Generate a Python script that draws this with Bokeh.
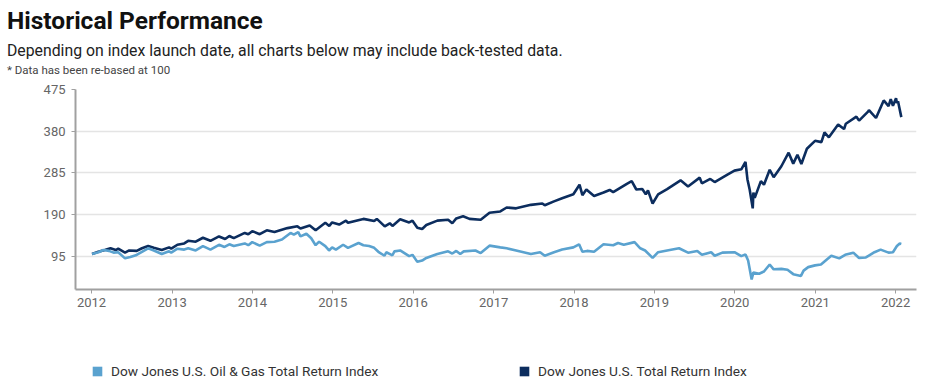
import pandas as pd
from bokeh.plotting import figure
from bokeh.layouts import column
from bokeh.models import (Range1d, FixedTicker, DatetimeTickFormatter, Div,
                          Legend, LegendItem, ColumnDataSource)
from bokeh.embed import file_html
from bokeh.resources import INLINE

# ---------------- data ----------------
us_dates = ["2012-01-03", "2012-02-01", "2012-03-01", "2012-03-27", "2012-04-20", "2012-05-01",
            "2012-06-01", "2012-06-20", "2012-07-24", "2012-08-17", "2012-09-14", "2012-10-10",
            "2012-11-15", "2012-12-18", "2012-12-28", "2013-01-25", "2013-02-25", "2013-03-15",
            "2013-04-18", "2013-05-21", "2013-06-24", "2013-08-02", "2013-08-30", "2013-09-18",
            "2013-10-08", "2013-11-27", "2013-12-13", "2013-12-31", "2014-02-03", "2014-03-07",
            "2014-04-11", "2014-06-09", "2014-07-24", "2014-08-07", "2014-09-18", "2014-10-15",
            "2014-11-28", "2014-12-16", "2014-12-29", "2015-01-30", "2015-03-02", "2015-03-11",
            "2015-05-20", "2015-07-08", "2015-07-20", "2015-08-25", "2015-09-17", "2015-09-29",
            "2015-11-03", "2015-12-14", "2015-12-29", "2016-01-20", "2016-02-11", "2016-03-01",
            "2016-04-20", "2016-06-08", "2016-06-27", "2016-07-15", "2016-08-15", "2016-09-13",
            "2016-11-03", "2016-12-13", "2017-01-31", "2017-03-01", "2017-04-13", "2017-06-19",
            "2017-08-10", "2017-08-21", "2017-10-02", "2017-11-08", "2017-12-29", "2018-01-26",
            "2018-02-08", "2018-02-26", "2018-04-02", "2018-05-15", "2018-06-12", "2018-06-28",
            "2018-08-29", "2018-09-20", "2018-10-11", "2018-11-07", "2018-11-23", "2018-12-03",
            "2018-12-24", "2019-01-18", "2019-02-28", "2019-04-30", "2019-06-03", "2019-07-26",
            "2019-08-05", "2019-09-12", "2019-10-02", "2019-11-29", "2019-12-31", "2020-01-31",
            "2020-02-19", "2020-02-28", "2020-03-09", "2020-03-23", "2020-03-26", "2020-04-01",
            "2020-04-29", "2020-05-13", "2020-06-08", "2020-06-26", "2020-07-31", "2020-09-02",
            "2020-09-23", "2020-10-12", "2020-10-30", "2020-11-24", "2020-12-31", "2021-01-29",
            "2021-02-12", "2021-03-04", "2021-04-15", "2021-05-12", "2021-05-20", "2021-07-07",
            "2021-07-19", "2021-08-30", "2021-09-02", "2021-10-04", "2021-11-08", "2021-11-30",
            "2021-12-10", "2021-12-20", "2022-01-03", "2022-01-07", "2022-01-12", "2022-01-27"]
us_values = [100, 105, 109, 113, 109, 112,
             103, 108, 107, 113, 118, 114,
             109, 115, 112, 121, 124, 130,
             128, 137, 130, 140, 134, 141,
             136, 148, 145, 152, 145, 154,
             150, 159, 163, 158, 165, 154,
             171, 164, 172, 167, 176, 171,
             180, 175, 180, 163, 170, 164,
             179, 172, 176, 160, 157, 166,
             176, 178, 170, 181, 186, 180,
             178, 194, 197, 206, 204, 212,
             215, 211, 220, 227, 236, 258,
             234, 247, 232, 240, 246, 241,
             260, 266, 247, 248, 236, 245,
             215, 236, 248, 268, 254, 274,
             261, 271, 264, 281, 290, 293,
             310, 270, 247, 204, 240, 228,
             266, 258, 292, 275, 300, 331,
             306, 326, 305, 340, 358, 355,
             377, 366, 395, 385, 397, 413,
             404, 425, 428, 410, 450, 437,
             453, 438, 455, 444, 448, 412]

og_dates = ["2012-01-03", "2012-02-01", "2012-02-24", "2012-03-20", "2012-04-10", "2012-05-01",
            "2012-06-01", "2012-06-25", "2012-07-20", "2012-08-17", "2012-09-14", "2012-10-10",
            "2012-11-15", "2012-12-18", "2012-12-28", "2013-01-25", "2013-02-25", "2013-03-15",
            "2013-04-18", "2013-05-21", "2013-06-24", "2013-08-02", "2013-08-27", "2013-09-18",
            "2013-10-08", "2013-11-27", "2013-12-13", "2013-12-31", "2014-02-03", "2014-03-07",
            "2014-04-11", "2014-05-15", "2014-06-23", "2014-07-08", "2014-07-28", "2014-08-07",
            "2014-09-03", "2014-09-25", "2014-10-15", "2014-10-31", "2014-11-28", "2014-12-15",
            "2014-12-29", "2015-01-15", "2015-02-17", "2015-03-11", "2015-04-28", "2015-05-20",
            "2015-06-15", "2015-07-08", "2015-07-27", "2015-08-24", "2015-09-01", "2015-09-29",
            "2015-10-08", "2015-11-03", "2015-12-14", "2015-12-29", "2016-01-20", "2016-02-11",
            "2016-03-01", "2016-04-20", "2016-06-08", "2016-06-27", "2016-07-15", "2016-08-02",
            "2016-08-18", "2016-10-10", "2016-11-03", "2016-12-13", "2017-01-31", "2017-03-01",
            "2017-04-13", "2017-06-19", "2017-07-31", "2017-08-21", "2017-10-02", "2017-11-08",
            "2017-12-29", "2018-01-24", "2018-02-08", "2018-03-01", "2018-04-02", "2018-05-15",
            "2018-06-28", "2018-07-20", "2018-08-15", "2018-10-03", "2018-10-29", "2018-11-20",
            "2018-12-24", "2019-01-18", "2019-02-28", "2019-04-23", "2019-06-03", "2019-07-15",
            "2019-08-05", "2019-09-16", "2019-10-02", "2019-11-06", "2019-12-31", "2020-01-31",
            "2020-02-19", "2020-03-02", "2020-03-18", "2020-03-26", "2020-04-21", "2020-05-13",
            "2020-06-08", "2020-06-26", "2020-07-31", "2020-08-28", "2020-09-23", "2020-10-28",
            "2020-11-09", "2020-11-30", "2020-12-31", "2021-01-27", "2021-02-24", "2021-03-15",
            "2021-04-20", "2021-05-17", "2021-06-23", "2021-07-19", "2021-08-19", "2021-09-27",
            "2021-10-25", "2021-11-30", "2021-12-20", "2022-01-07", "2022-01-20", "2022-01-27"]
og_values = [100, 104, 109, 107, 103, 104,
             90, 93, 97, 105, 113, 108,
             100, 106, 103, 112, 110, 113,
             108, 118, 110, 121, 116, 122,
             118, 124, 120, 127, 119, 127,
             128, 133, 148, 144, 150, 140,
             146, 136, 120, 128, 118, 108,
             115, 110, 121, 114, 125, 120,
             118, 114, 105, 96, 104, 97,
             106, 108, 95, 98, 82, 85,
             91, 100, 106, 101, 107, 100,
             106, 108, 102, 119, 115, 113,
             108, 100, 104, 96, 104, 110,
             115, 122, 105, 107, 105, 122,
             120, 125, 121, 127, 113, 108,
             91, 104, 108, 113, 103, 107,
             98, 104, 96, 103, 104, 95,
             99, 85, 42, 58, 55, 60,
             76, 65, 66, 64, 54, 50,
             62, 70, 74, 76, 88, 96,
             90, 98, 103, 91, 92, 104,
             110, 103, 104, 118, 124, 123]

og_name = "Dow Jones U.S. Oil & Gas Total Return Index"
us_name = "Dow Jones U.S. Total Return Index"
og_color = "#5aa2cf"
us_color = "#0c2d5e"

y_ticks = [95, 190, 285, 380, 475]
x_tick_years = list(range(2012, 2023))

title_text = "Historical Performance"
subtitle_text = "Depending on index launch date, all charts below may include back-tested data."
note_text = "* Data has been re-based at 100"

FONT = "Roboto"
W = 928

# ---------------- header (HTML text block) ----------------
header_html = f"""
<div style="position:relative;width:{W}px;height:79px;font-family:Roboto,sans-serif;">
  <div style="position:absolute;left:7px;top:9px;font-size:24.5px;line-height:24.5px;
              font-weight:bold;color:#111111;white-space:nowrap;">{title_text}</div>
  <div style="position:absolute;left:7px;top:43px;font-size:15.8px;line-height:15.8px;
              color:#222222;white-space:nowrap;">{subtitle_text}</div>
  <div style="position:absolute;left:7px;top:65px;font-size:11.5px;line-height:11.5px;
              color:#444444;white-space:nowrap;">{note_text}</div>
</div>
"""
head = Div(text=header_html, width=W, height=79, margin=0)

# ---------------- main chart ----------------
p = figure(width=W, height=250, x_axis_type="datetime",
           x_range=Range1d(pd.Timestamp("2011-10-20"), pd.Timestamp("2022-04-06")),
           y_range=Range1d(19, 475),
           output_backend="svg", toolbar_location=None,
           min_border_left=75, min_border_right=12, min_border_top=10, min_border_bottom=40)
p.outline_line_color = None

us_src = ColumnDataSource(dict(date=pd.to_datetime(us_dates), value=us_values))
og_src = ColumnDataSource(dict(date=pd.to_datetime(og_dates), value=og_values))

p.line(x="date", y="value", source=us_src, line_width=2.6, line_color=us_color)
p.line(x="date", y="value", source=og_src, line_width=2.6, line_color=og_color)

x_ticks_ms = [pd.Timestamp(f"{y}-01-01").value / 1e6 for y in x_tick_years]
p.xaxis.ticker = FixedTicker(ticks=x_ticks_ms)
p.xaxis.formatter = DatetimeTickFormatter(years="%Y", months="%Y", days="%Y", hours="%Y",
                                          minutes="%Y", seconds="%Y", milliseconds="%Y")
p.yaxis.ticker = FixedTicker(ticks=y_ticks)
p.ygrid.ticker = FixedTicker(ticks=y_ticks)
p.xgrid.visible = False
p.ygrid.grid_line_color = "#e4e4e4"
p.ygrid.grid_line_width = 1.5

for ax in (p.xaxis, p.yaxis):
    ax.axis_line_color = "#a0a0a0"
    ax.axis_line_width = 2
    ax.major_tick_line_color = "#a0a0a0"
    ax.major_tick_out = 4
    ax.major_tick_in = 0
    ax.minor_tick_line_color = None
    ax.major_label_text_font = FONT
    ax.major_label_text_font_size = "13px"
    ax.major_label_text_color = "#666666"
p.xaxis.major_label_standoff = 4
p.yaxis.major_label_standoff = 6

# ---------------- legend strip ----------------
leg = figure(width=W, height=54, x_range=Range1d(0, 1), y_range=Range1d(0, 1),
             x_axis_type=None, y_axis_type=None, output_backend="svg",
             toolbar_location=None, min_border=0)
leg.outline_line_color = None
leg.grid.visible = False
# legend-only swatch proxies (kept outside the strip's visible range)
og_sw = leg.quad(left=[-2], right=[-1], top=[-1], bottom=[-2],
                 fill_color=og_color, line_color=None)
us_sw = leg.quad(left=[-2], right=[-1], top=[-1], bottom=[-2],
                 fill_color=us_color, line_color=None)

for item_name, sw, loc in ((og_name, og_sw, (16, 4)), (us_name, us_sw, (443, 4))):
    lg = Legend(items=[LegendItem(label=item_name, renderers=[sw])], location=loc,
                orientation="horizontal", glyph_width=12, glyph_height=12,
                label_standoff=8, padding=0, margin=0, label_height=12,
                label_text_font=FONT, label_text_font_size="13.7px",
                label_text_color="#333333", border_line_color=None,
                background_fill_alpha=0)
    leg.add_layout(lg)

layout = column(head, p, leg, spacing=0)
open("out.html", "w").write(file_html(layout, INLINE))
